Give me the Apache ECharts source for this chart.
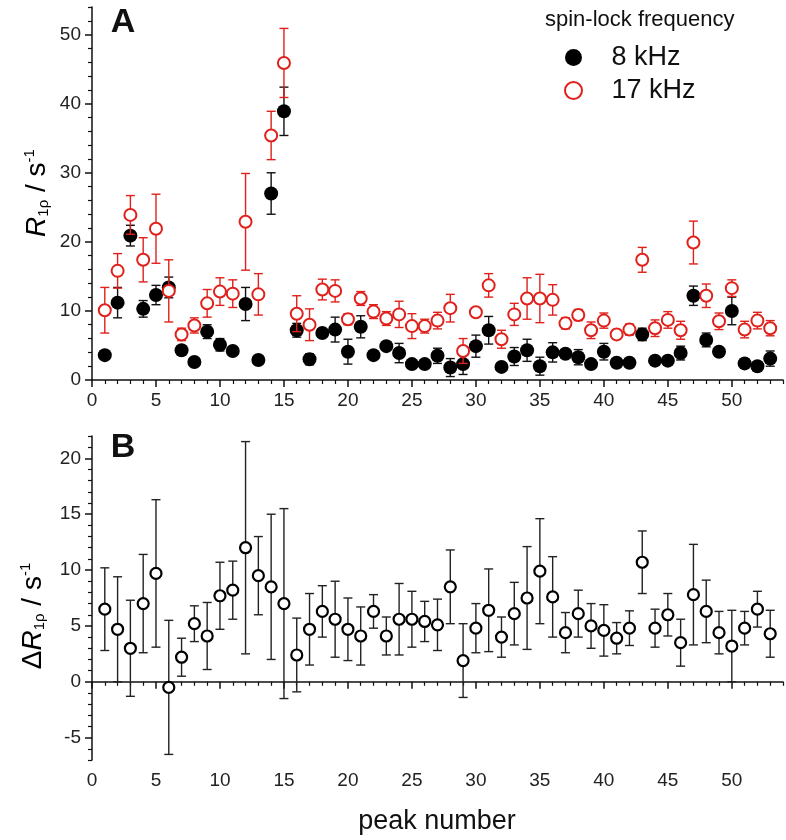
<!DOCTYPE html>
<html><head><meta charset="utf-8">
<script src="https://cdn.jsdelivr.net/npm/echarts@6/dist/echarts.min.js"></script>
<style>html,body{margin:0;padding:0;background:#fff}#c{width:786px;height:840px}</style>
</head><body><div id="c"></div>
<script>
const peaks = [1,2,3,4,5,6,7,8,9,10,11,12,13,14,15,16,17,18,19,20,21,22,23,24,25,26,27,28,29,30,31,32,33,34,35,36,37,38,39,40,41,42,43,44,45,46,47,48,49,50,51,52,53];
const r8 = [3.6,11.2,20.9,10.3,12.3,13.4,4.3,2.6,7.0,5.1,4.2,11.0,2.9,27.0,38.9,7.2,3.0,6.8,7.3,4.1,7.7,3.6,4.9,3.9,2.3,2.3,3.5,1.8,2.3,4.9,7.2,1.9,3.4,4.3,2.0,4.0,3.8,3.3,2.3,4.1,2.5,2.5,6.6,2.8,2.8,3.9,12.2,5.8,4.1,10.0,2.4,2.0,3.1];
const r8Err = [0.3,2.2,1.5,1.2,1.4,1.5,0.3,0.3,1.0,0.9,0.3,2.4,0.3,3.0,3.5,1.0,0.8,0.6,1.8,1.8,1.6,0.3,0.5,1.4,0.3,0.3,1.1,1.3,1.5,1.6,2.0,0.3,1.3,1.6,1.3,1.4,0.5,1.1,0.3,1.2,0.3,0.3,0.9,0.3,0.3,1.0,1.4,1.0,0.5,2.0,0.3,0.3,1.1];
const r17 = [10.1,15.8,23.9,17.4,21.9,12.9,6.6,7.9,11.1,12.8,12.5,22.9,12.4,35.4,45.9,9.6,8.0,13.1,12.9,8.8,11.8,9.9,8.9,9.5,7.8,7.8,8.6,10.4,4.2,9.8,13.7,5.9,9.5,11.8,11.8,11.6,8.2,9.4,7.2,8.6,6.6,7.3,17.4,7.5,8.7,7.2,19.9,12.2,8.5,13.3,7.3,8.6,7.5];
const r17Err = [3.3,2.5,2.8,3.2,5.0,4.5,0.9,1.1,2.0,2.0,2.0,7.0,3.0,3.5,5.0,2.6,2.3,1.5,1.6,0.8,1.0,1.0,1.0,1.9,1.8,1.0,1.2,2.0,1.8,0.4,1.7,1.3,1.6,3.0,3.5,2.2,0.8,0.8,1.2,1.1,0.7,0.8,1.8,1.2,1.2,1.3,3.1,1.7,1.2,1.2,1.2,1.2,1.1];
const dR = [6.5,4.7,3.0,7.0,9.7,-0.5,2.2,5.2,4.1,7.7,8.2,12.0,9.5,8.5,7.0,2.4,4.7,6.3,5.6,4.7,4.1,6.3,4.1,5.6,5.6,5.4,5.1,8.5,1.9,4.8,6.4,4.0,6.1,7.5,9.9,7.6,4.4,6.1,5.0,4.6,3.9,4.8,10.7,4.8,6.0,3.5,7.8,6.3,4.4,3.2,4.8,6.5,4.3];
const dRErr = [3.7,4.7,4.3,4.4,6.6,6.0,1.7,1.6,3.0,3.0,2.6,9.5,3.5,6.5,8.5,3.3,3.2,2.3,3.4,2.8,2.6,1.5,1.7,3.2,2.5,1.8,2.3,3.3,3.3,2.2,3.7,1.8,2.8,4.6,4.7,3.6,1.8,2.1,2.0,2.3,1.4,1.55,2.8,1.7,1.9,2.1,4.5,2.8,1.9,3.2,1.5,1.6,2.1];

const xMajor = [0,5,10,15,20,25,30,35,40,45,50];
const xMinor = [];
for (let i = 0; i <= 54; i++) if (i % 5) xMinor.push(i);
const yTopMajor = [0,10,20,30,40,50];
const yTopMinor = [2,4,6,8,12,14,16,18,22,24,26,28,32,34,36,38,42,44,46,48,52,54];
const yBotMajor = [-5,0,5,10,15,20];
const yBotMinor = [];
for (let i = -7; i <= 22; i++) if (i % 5) yBotMinor.push(i);

const FONT = '"Liberation Sans", Arial, sans-serif';

function errData(vals, errs) {
  return peaks.map((p, i) => [p, vals[i] - errs[i], vals[i] + errs[i]]);
}
function errRender(color) {
  return function (params, api) {
    const x = api.value(0), lo = api.value(1), hi = api.value(2);
    const a = api.coord([x, hi]), b = api.coord([x, lo]);
    const w = 4.5;
    const st = { stroke: color, lineWidth: 1.4 };
    return { type: 'group', children: [
      { type: 'line', shape: { x1: a[0], y1: a[1], x2: b[0], y2: b[1] }, style: st },
      { type: 'line', shape: { x1: a[0] - w, y1: a[1], x2: a[0] + w, y2: a[1] }, style: st },
      { type: 'line', shape: { x1: b[0] - w, y1: b[1], x2: b[0] + w, y2: b[1] }, style: st }
    ]};
  };
}

const axisLineStyle = { show: true, lineStyle: { color: '#111', width: 1.5 } };
function majorX(gi) {
  return { type: 'value', gridIndex: gi, min: 0, max: 54, position: 'bottom',
    axisLine: axisLineStyle, splitLine: { show: false },
    axisTick: { show: true, inside: false, length: 7, customValues: xMajor, lineStyle: { color: '#111', width: 1.5 } },
    axisLabel: { customValues: xMajor, margin: 11, fontSize: 19, color: '#222', fontFamily: FONT } };
}
function minorX(gi) {
  return { type: 'value', gridIndex: gi, min: 0, max: 54, position: 'bottom',
    axisLine: { show: false }, splitLine: { show: false },
    axisTick: { show: true, inside: false, length: 4, customValues: xMinor, lineStyle: { color: '#111', width: 1.2 } },
    axisLabel: { show: false } };
}
function majorY(gi, min, max, vals) {
  return { type: 'value', gridIndex: gi, min: min, max: max, position: 'left',
    axisLine: axisLineStyle, splitLine: { show: false },
    axisTick: { show: true, inside: false, length: 7, customValues: vals, lineStyle: { color: '#111', width: 1.5 } },
    axisLabel: { customValues: vals, margin: 11, fontSize: 19, color: '#222', fontFamily: FONT } };
}
function minorY(gi, min, max, vals) {
  return { type: 'value', gridIndex: gi, min: min, max: max, position: 'left',
    axisLine: { show: false }, splitLine: { show: false },
    axisTick: { show: true, inside: false, length: 4, customValues: vals, lineStyle: { color: '#111', width: 1.2 } },
    axisLabel: { show: false } };
}

const chart = echarts.init(document.getElementById('c'), null, { renderer: 'canvas' });
const richName = {
  i: { fontSize: 28, fontStyle: 'italic', fontFamily: FONT, color: '#111', verticalAlign: 'middle' },
  d: { fontSize: 28, fontFamily: FONT, color: '#111', verticalAlign: 'middle' },
  s: { fontSize: 15, fontFamily: FONT, color: '#111', verticalAlign: 'bottom', padding: [12, 0, 0, 0] },
  n: { fontSize: 28, fontFamily: FONT, color: '#111', verticalAlign: 'middle' },
  p: { fontSize: 15, fontFamily: FONT, color: '#111', verticalAlign: 'top', padding: [0, 0, 14, 0] }
};
chart.setOption({
  animation: false,
  backgroundColor: '#fff',
  textStyle: { fontFamily: FONT },
  grid: [
    { left: 92, top: 7, width: 691, height: 373 },
    { left: 92, top: 436, width: 691, height: 324 }
  ],
  xAxis: [majorX(0), minorX(0), majorX(1), minorX(1)],
  yAxis: [majorY(0, 0, 54, yTopMajor), minorY(0, 0, 54, yTopMinor), majorY(1, -7, 22, yBotMajor), minorY(1, -7, 22, yBotMinor)],
  legend: {
    data: ['8 kHz', '17 kHz'], orient: 'vertical', left: 559, top: 39,
    itemWidth: 66, itemHeight: 17, itemGap: 6,
    textStyle: { fontSize: 27, color: '#111', fontFamily: FONT }
  },
  graphic: [
    { type: 'text', left: 545, top: 9, style: { text: 'spin-lock frequency', fontSize: 22, fill: '#111', fontFamily: FONT } },
    { type: 'text', x: 123, y: 23, style: { text: 'A', fontSize: 34, fontWeight: 'bold', fill: '#111', fontFamily: FONT, align: 'center', verticalAlign: 'middle' } },
    { type: 'text', x: 123, y: 448, style: { text: 'B', fontSize: 34, fontWeight: 'bold', fill: '#111', fontFamily: FONT, align: 'center', verticalAlign: 'middle' } },
    { type: 'text', x: 37, y: 193, rotation: Math.PI / 2, style: { text: '{i|R}{s|1ρ}{n| / s}{p|-1}', rich: richName, align: 'center', verticalAlign: 'middle' } },
    { type: 'text', x: 33, y: 616, rotation: Math.PI / 2, style: { text: '{d|Δ}{i|R}{s|1ρ}{n| / s}{p|-1}', rich: richName, align: 'center', verticalAlign: 'middle' } },
    { type: 'text', x: 437, y: 822, style: { text: 'peak number', fontSize: 27, fill: '#111', fontFamily: FONT, align: 'center', verticalAlign: 'middle' } }
  ],
  series: [
    { name: 'err8', type: 'custom', xAxisIndex: 0, yAxisIndex: 0, z: 2, renderItem: errRender('#111'),
      encode: { x: 0, y: [1, 2] }, data: errData(r8, r8Err), silent: true },
    { name: '8 kHz', type: 'scatter', xAxisIndex: 0, yAxisIndex: 0, z: 3, symbol: 'circle', symbolSize: 14,
      itemStyle: { color: '#000', opacity: 1 }, data: peaks.map((p, i) => [p, r8[i]]) },
    { name: 'err17', type: 'custom', xAxisIndex: 0, yAxisIndex: 0, z: 4, renderItem: errRender('#e0201b'),
      encode: { x: 0, y: [1, 2] }, data: errData(r17, r17Err), silent: true },
    { name: '17 kHz', type: 'scatter', xAxisIndex: 0, yAxisIndex: 0, z: 5, symbol: 'circle', symbolSize: 12,
      itemStyle: { color: '#fff', borderColor: '#e0201b', borderWidth: 2, opacity: 1 }, data: peaks.map((p, i) => [p, r17[i]]) },
    { name: 'errD', type: 'custom', xAxisIndex: 2, yAxisIndex: 2, z: 2, renderItem: errRender('#222'),
      encode: { x: 0, y: [1, 2] }, data: errData(dR, dRErr), silent: true },
    { name: 'delta', type: 'scatter', xAxisIndex: 2, yAxisIndex: 2, z: 3, symbol: 'circle', symbolSize: 11,
      itemStyle: { color: '#fff', borderColor: '#000', borderWidth: 2.2, opacity: 1 }, data: peaks.map((p, i) => [p, dR[i]]) }
  ]
});
</script>
</body></html>
